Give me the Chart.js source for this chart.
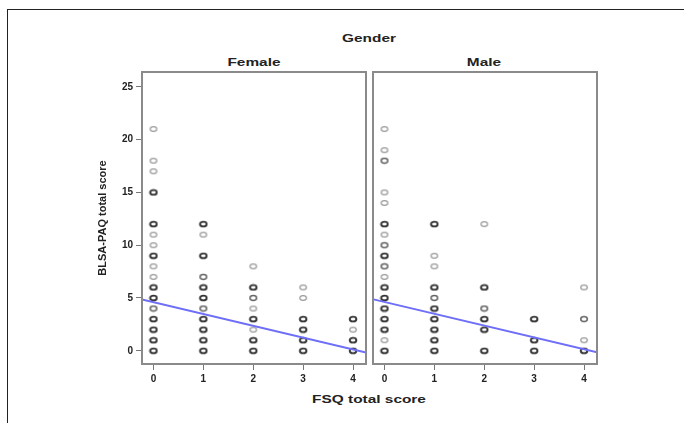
<!DOCTYPE html>
<html>
<head>
<meta charset="utf-8">
<script src="https://cdn.jsdelivr.net/npm/chart.js@4.4.1/dist/chart.umd.min.js"></script>
<style>
  body { margin: 0; background: #fff; width: 684px; height: 423px; overflow: hidden; position: relative; font-family: "Liberation Sans", Arial, sans-serif; }
  .frame { position: absolute; left: 7px; top: 9px; width: 720px; height: 460px; border-top: 1.5px solid #222; border-left: 1.5px solid #222; }
  .lbl { position: absolute; font-weight: bold; font-size: 11px; color: #222; white-space: nowrap; transform: translate(-50%, -50%) scaleX(1.4); }
  canvas { position: absolute; }
</style>
</head>
<body>
<div class="frame"></div>
<div class="lbl" style="left:369px; top:38px;">Gender</div>
<div class="lbl" style="left:254px; top:62px;">Female</div>
<div class="lbl" style="left:484px; top:62px;">Male</div>
<div class="lbl" style="left:369px; top:399px;">FSQ total score</div>

<canvas id="female" width="280" height="345" style="left:90px; top:50px;"></canvas>
<canvas id="male" width="250" height="345" style="left:360px; top:50px;"></canvas>

<script>
// axis ticks
const xTicks = [0, 1, 2, 3, 4];
const yTicks = [0, 5, 10, 15, 20, 25];

// Female panel: [FSQ, BLSA-PAQ]; dark = many overlapping cases, mid = a few, light = one
const femaleDark = [[0,0],[0,1],[0,2],[0,3],[0,5],[0,6],[0,9],[0,12],[0,15],
  [1,0],[1,1],[1,2],[1,3],[1,5],[1,6],[1,9],[1,12],
  [2,0],[2,1],[2,3],[2,6],
  [3,0],[3,1],[3,2],[3,3],
  [4,0],[4,1],[4,3]];
const femaleMid = [[0,4],[1,4],[1,7],[2,5]];
const femaleLight = [[0,7],[0,8],[0,10],[0,11],[0,17],[0,18],[0,21],[1,11],[2,2],[2,4],[2,8],[3,5],[3,6],[4,2]];
const femaleFit = [[-0.23, 4.86], [4.26, -0.17]];

// Male panel
const maleDark = [[0,0],[0,2],[0,3],[0,4],[0,5],[0,6],[0,9],[0,12],
  [1,0],[1,1],[1,2],[1,3],[1,4],[1,6],[1,12],
  [2,0],[2,2],[2,3],[2,6],
  [3,0],[3,1],[3,3],
  [4,0]];
const maleMid = [[0,8],[0,10],[0,18],[1,5],[2,4],[4,3]];
const maleLight = [[0,1],[0,7],[0,11],[0,14],[0,15],[0,19],[0,21],[1,8],[1,9],[2,12],[4,1],[4,6]];
const maleFit = [[-0.22, 4.87], [4.26, -0.15]];

function ring(color, lw) {
  const c = document.createElement('canvas');
  c.width = 10; c.height = 8;
  const g = c.getContext('2d');
  g.strokeStyle = color;
  g.lineWidth = lw;
  g.beginPath();
  g.ellipse(5, 4, 3.3, 2.4, 0, 0, Math.PI * 2);
  g.stroke();
  return c;
}
const darkRing = ring('#333', 1.9);
const midRing = ring('#666', 1.5);
const lightRing = ring('#9a9a9a', 1.2);

const toXY = arr => arr.map(p => ({ x: p[0], y: p[1] }));

const boxFrame = {
  id: 'boxFrame',
  afterDraw(chart) {
    const a = chart.chartArea, ctx = chart.ctx;
    ctx.save();
    ctx.strokeStyle = '#8a8a8a';
    ctx.lineWidth = 2;
    ctx.strokeRect(a.left, a.top, a.right - a.left, a.bottom - a.top);
    ctx.restore();
  }
};

function panel(id, dark, mid, light, fit, showY, pad) {
  return new Chart(document.getElementById(id), {
    type: 'scatter',
    data: {
      datasets: [
        { data: toXY(fit), showLine: true, borderColor: '#6e6ef8', borderWidth: 2, pointRadius: 0, order: 0 },
        { data: toXY(dark), pointStyle: darkRing, order: 1 },
        { data: toXY(mid), pointStyle: midRing, order: 2 },
        { data: toXY(light), pointStyle: lightRing, order: 3 }
      ]
    },
    options: {
      responsive: false,
      animation: false,
      events: [],
      layout: { autoPadding: false, padding: pad },
      plugins: { legend: { display: false }, tooltip: { enabled: false } },
      scales: {
        x: {
          type: 'linear', min: -0.23, max: 4.26,
          afterBuildTicks: ax => { ax.ticks = xTicks.map(v => ({ value: v })); },
          afterFit: ax => { ax.height = 31; },
          border: { display: false },
          grid: { drawOnChartArea: false, drawTicks: true, tickLength: 6, color: '#777' },
          ticks: { padding: 3, color: '#222', font: { family: 'Liberation Sans', weight: 'bold', size: 10 } }
        },
        y: {
          type: 'linear', min: -1.25, max: 26.4,
          display: showY,
          afterBuildTicks: ax => { ax.ticks = yTicks.map(v => ({ value: v })); },
          afterFit: ax => { ax.width = showY ? 50 : 0; },
          border: { display: false },
          grid: { drawOnChartArea: false, drawTicks: true, tickLength: 6, color: '#777' },
          ticks: { padding: 3, color: '#222', font: { family: 'Liberation Sans', weight: 'bold', size: 10 } },
          title: { display: true, text: 'BLSA-PAQ total score', color: '#222', padding: { top: 4, bottom: 2 },
                   font: { family: 'Liberation Sans', weight: 'bold', size: 11 } }
        }
      }
    },
    plugins: [boxFrame]
  });
}

panel('female', femaleDark, femaleMid, femaleLight, femaleFit, true, { left: 2, top: 22, right: 4, bottom: 0 });
panel('male', maleDark, maleMid, maleLight, maleFit, false, { left: 13, top: 22, right: 13, bottom: 0 });
</script>
</body>
</html>
